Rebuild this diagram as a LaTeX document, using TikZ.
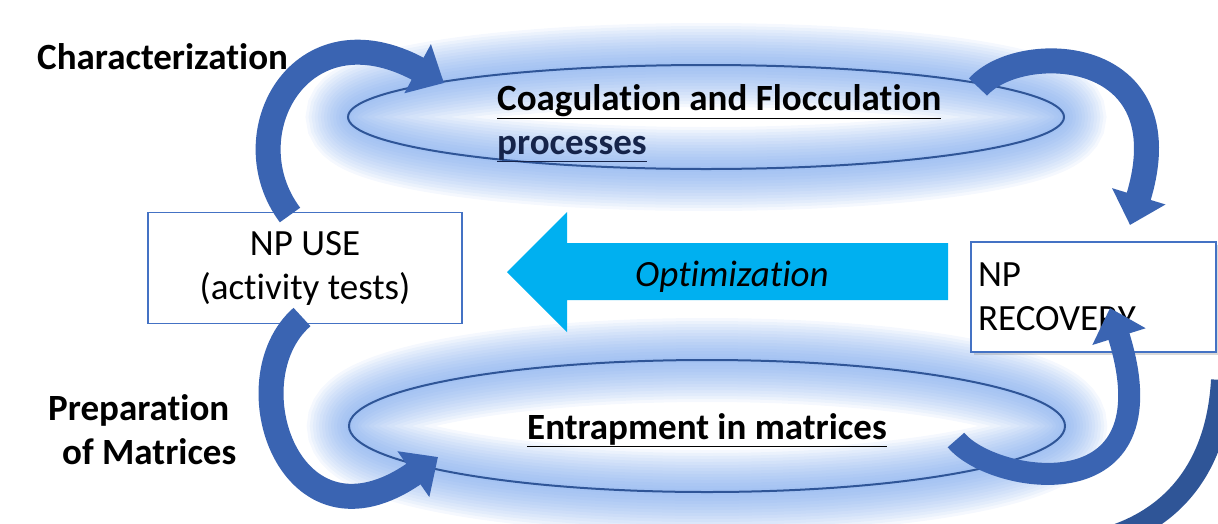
\documentclass[tikz,border=0pt]{standalone}
\usepackage{fontspec}
\setmainfont{Carlito}[Ligatures=NoCommon]
\usetikzlibrary{arrows.meta,shadows}

\definecolor{glowblue}{RGB}{112,160,235}
\definecolor{ringblue}{RGB}{47,85,151}
\definecolor{boxblue}{RGB}{68,114,196}
\definecolor{arcblue}{RGB}{58,100,178}
\definecolor{darkarc}{RGB}{47,85,151}
\definecolor{optcyan}{RGB}{0,176,240}
\definecolor{linkblue}{RGB}{22,36,74}

\tikzset{
  bigfont/.style={font=\fontsize{37}{44}\selectfont},
  glow/.style={draw=glowblue, draw opacity=0.07},
  ring/.style={draw=ringblue, line width=2},
  npbox/.style={draw=boxblue, line width=1.5, fill=white, bigfont},
  steptext/.style={font=\fontsize{37}{44}\selectfont\bfseries, inner sep=0},
  bluearc/.style={draw=arcblue, line width=25, -{Triangle[length=30,width=54]}},
}

\begin{document}
\begin{tikzpicture}[x=1pt,y=-1pt]
    \useasboundingbox (0,0) rectangle (1218,523);
    \clip (0,0) rectangle (1218,523);

    % glow round the two loops
    \foreach \w in {84,78,...,6}{
      \draw[glow,line width=\w] (706,117) ellipse [x radius=358, y radius=52];
      \draw[glow,line width=\w] (707,426) ellipse [x radius=358, y radius=66];
    }
    \draw[ring] (706,117) ellipse [x radius=358, y radius=52];
    \draw[ring] (707,426) ellipse [x radius=358, y radius=66];

    % loop titles
    \node[steptext,anchor=west,align=left] (coag) at (497,123)
        {\underline{Coagulation and Flocculation}\\\textcolor{linkblue}{\underline{processes}}};
    \node[steptext,anchor=west] (entr) at (527,430) {\underline{Entrapment in matrices}};

    % side labels
    \node[steptext,anchor=west] (charac) at (37,57) {Characterization};
    \node[steptext,anchor=west,align=left] (prep) at (48,430) {Preparation\\\hspace*{14pt}of Matrices};

    % boxes
    \node[npbox,minimum width=314,minimum height=111,align=center] (use) at (305,268)
        {NP USE\\(activity tests)};
    \node[npbox,drop shadow={opacity=0.3,shadow xshift=3pt,shadow yshift=-3pt},
          text width=231,inner xsep=7,minimum height=110,align=left] (rec) at (1093.5,297)
        {NP\\RECOVERY};

    % optimization arrow
    \fill[optcyan] (948,243) -- (567,243) -- (567,212) -- (507,272) -- (567,332)
        -- (567,300) -- (948,300) -- cycle;
    \node[font=\fontsize{37}{44}\selectfont\itshape] (opt) at (732,277) {Optimization};

    % curved arrows
    \coordinate (use-n) at (290,215);
    \coordinate (coag-w) at (444,83);
    \coordinate (coag-e) at (978,87);
    \coordinate (rec-n) at (1130,225);
    \coordinate (use-s) at (302,317);
    \coordinate (entr-w) at (438,457);
    \coordinate (entr-e) at (956,440);
    \coordinate (rec-s) at (1110,308);
    \draw[bluearc] (use-n) .. controls (230,135) and (300,5) .. (coag-w);
    \draw[bluearc] (coag-e) .. controls (1020,40) and (1185,45) .. (rec-n);
    \draw[bluearc] (use-s) .. controls (230,380) and (290,560) .. (entr-w);
    \draw[bluearc,line width=22] (entr-e) .. controls (992,484) and (1175,515) .. (rec-s);

    % outer arc, cut by the frame
    \coordinate (far-s) at (1100,540);
    \coordinate (far-e) at (1222,380);
    \draw[darkarc,line width=22] (far-s) .. controls (1170,522) and (1217,470) .. (far-e);

\end{tikzpicture}
\end{document}
